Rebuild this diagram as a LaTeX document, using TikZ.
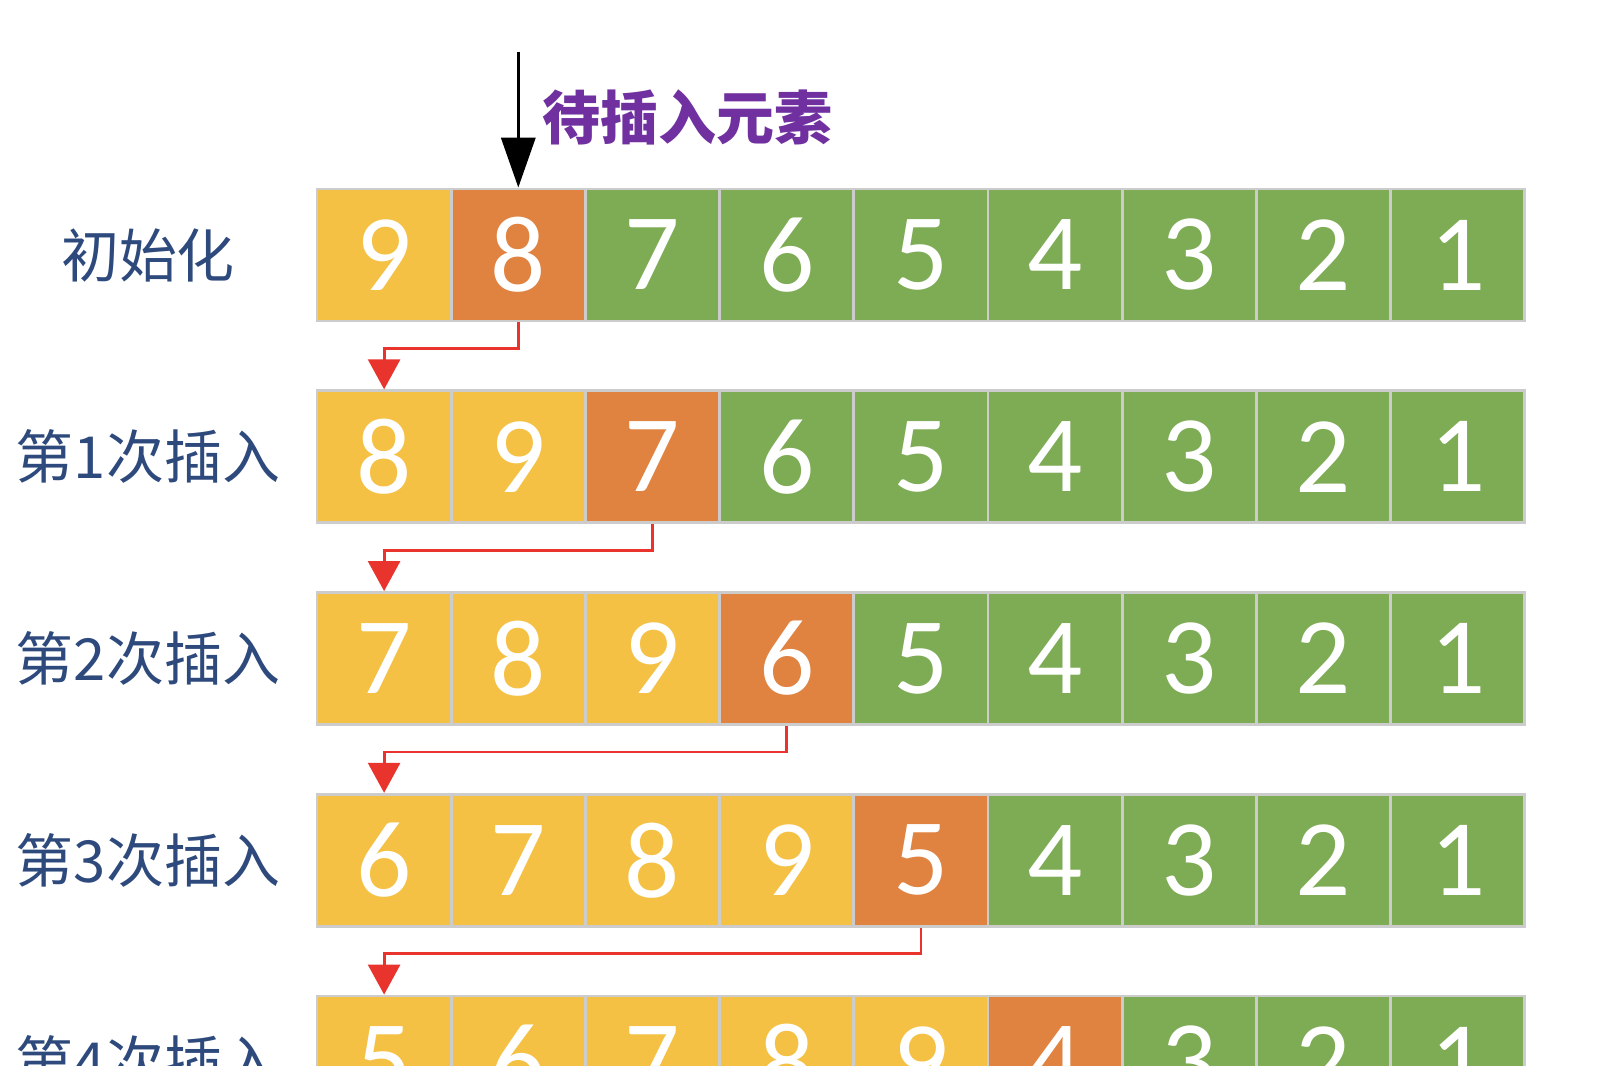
\documentclass[tikz,border=0pt]{standalone}
\usepackage{fontspec}
\setmainfont{Carlito}
\newfontfamily\cjk{Noto Sans CJK SC}
\usetikzlibrary{arrows.meta,calc}

\definecolor{cellyellow}{HTML}{F4C144}
\definecolor{cellorange}{HTML}{E08240}
\definecolor{cellgreen}{HTML}{7EAC55}
\definecolor{labelblue}{HTML}{2E4A7D}
\definecolor{notepurple}{HTML}{7030A0}
\definecolor{movered}{HTML}{E8342C}

\begin{document}
\begin{tikzpicture}[
  cell/.style={draw=black!20,line width=0.8pt,minimum width=1.342cm,minimum height=1.32cm,
    inner sep=0pt,text=white,font=\fontsize{31}{31}\selectfont},
  rowlabel/.style={font=\cjk\fontsize{16.5}{18}\selectfont,text=labelblue},
  note/.style={font=\cjk\bfseries\fontsize{16.5}{18}\selectfont,text=notepurple},
  move/.style={draw=movered,line width=0.8pt,-{Triangle[length=3mm,width=3.2mm]}},
  pick/.style={draw=black,line width=1pt,-{Triangle[length=5mm,width=3.4mm]}},
]
\useasboundingbox (0,0) rectangle (16,-10.66);
\clip (0,0) rectangle (16,-10.66);

% rows of cells: yellow = sorted, orange = current, green = unsorted
\foreach \r/\lab/\vals in {0/初始化/{9,8,7,6,5,4,3,2,1},
                           1/第1次插入/{8,9,7,6,5,4,3,2,1},
                           2/第2次插入/{7,8,9,6,5,4,3,2,1},
                           3/第3次插入/{6,7,8,9,5,4,3,2,1},
                           4/第4次插入/{5,6,7,8,9,4,3,2,1}}{
  \node[rowlabel] (lab\r) at (1.48,{-2.55-2.0175*\r}) {\lab};
  \foreach \v [count=\i] in \vals {
    \ifnum\i<\numexpr\r+2\relax \def\col{cellyellow}%
    \else\ifnum\i=\numexpr\r+2\relax \def\col{cellorange}%
    \else \def\col{cellgreen}\fi\fi
    \node[cell,fill=\col] (c\r-\i) at ({3.17+1.342*(\i-0.5)},{-2.55-2.0175*\r}) {\v};
  }
}

% element to insert
\coordinate (pin) at ($(c0-2.north)+(0,1.36)$);
\draw[pick] (pin) -- (c0-2.north);
\node[note,anchor=west] (pinlab) at (5.30,-1.17) {待插入元素};

% moves into the sorted part
\foreach \r in {0,...,3}{
  \pgfmathtruncatemacro\k{\r+2}
  \pgfmathtruncatemacro\n{\r+1}
  \draw[move] (c\r-\k.south) -- ++(0,-0.26) -| (c\n-1.north);
}

\end{tikzpicture}
\end{document}
